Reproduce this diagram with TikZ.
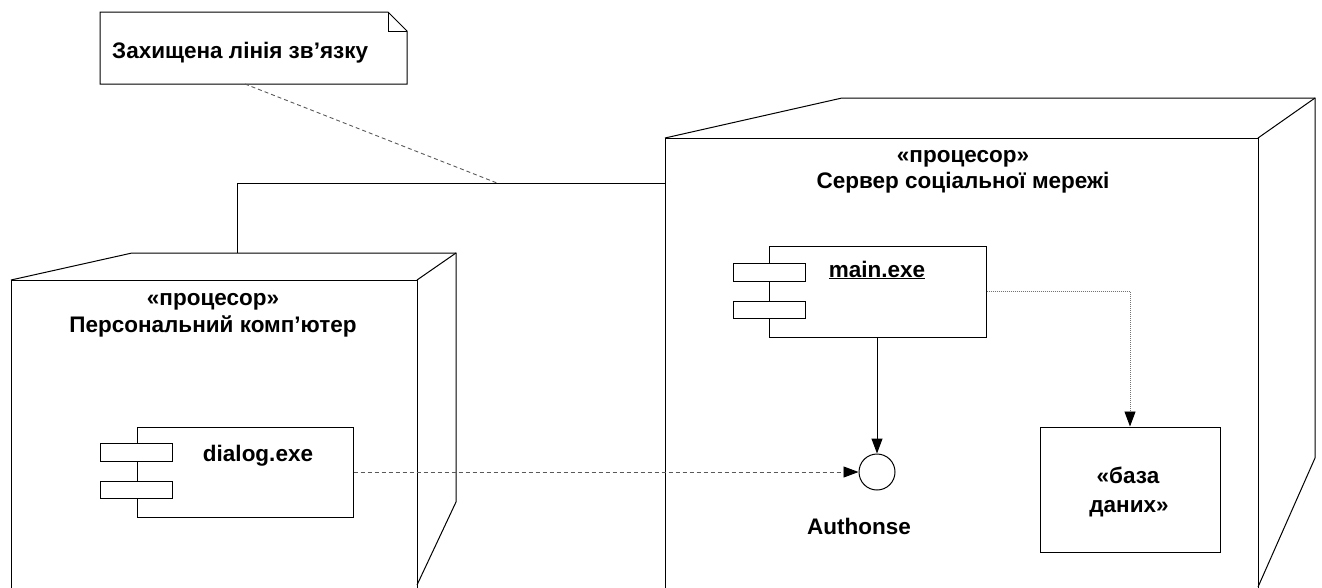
\documentclass[tikz,border=0pt]{standalone}
\usepackage{fontspec}
\setmainfont{Liberation Sans}
\usetikzlibrary{arrows.meta}
\begin{document}
\begin{tikzpicture}[x=1pt,y=-1pt,
  edge/.style={line width=1pt, black},
  lbl/.style={font=\fontsize{22.5}{26}\selectfont\bfseries, inner sep=0pt, anchor=base},
  comp/.style={draw, line width=1pt, minimum width=216pt, minimum height=90pt, inner sep=0pt, fill=white},
  port/.style={draw, line width=1pt, minimum width=72pt, minimum height=17.5pt, inner sep=0pt, fill=white},
  tip/.style={-{Triangle[length=15pt,width=11pt,color=black]}},
  dashline/.style={line width=0.9pt, black!65, dash pattern=on 4pt off 3pt},
  dotline/.style={line width=0.9pt, black!55, dash pattern=on 1pt off 1pt}
]
\useasboundingbox (0,0) rectangle (1322,587);
\clip (0,0) rectangle (1322,587);

% ---------- note ----------
\draw[edge, fill=white] (100,12) -- (388,12) -- (407,31) -- (407,84) -- (100,84) -- cycle;
\draw[edge] (388,12) -- (388,31) -- (407,31);
\node[lbl, anchor=base west] (notetext) at (112,58) {Захищена лінія зв’язку};

% ---------- left node (personal computer) ----------
\draw[edge] (11,600) -- (11,280) -- (417,280) -- (417,600);
\draw[edge] (11,280) -- (132,253) -- (456,253) -- (456,502) -- (417,585);
\draw[edge] (456,253) -- (417,280);
\node[lbl] (pcst) at (213,305) {«процесор»};
\node[lbl] (pcname) at (213,332) {Персональний комп’ютер};

% ---------- right node (server) ----------
\draw[edge] (665,600) -- (665,138) -- (1258,138) -- (1258,600);
\draw[edge] (665,138) -- (842,98) -- (1315,98) -- (1315,458) -- (1258,587);
\draw[edge] (1315,98) -- (1258,138);
\node[lbl] (srvst) at (963,162) {«процесор»};
\node[lbl] (srvname) at (963,188) {Сервер соціальної мережі};

% ---------- link between nodes ----------
\coordinate (pctop) at (237,253);
\coordinate (bend) at (237,183);
\coordinate (srvleft) at (665,183);
\draw[edge] (pctop) -- (bend) -- (srvleft);
\coordinate (notefoot) at (245,84);
\coordinate (linkpt) at (497,183);
\draw[dashline] (notefoot) -- (linkpt);

% ---------- dialog.exe component ----------
\node[comp] (dialog) at (245,472) {};
\node[port] (dport1) at (136.5,452.5) {};
\node[port] (dport2) at (136.5,490) {};
\node[lbl] (dialogtext) at (258,461) {dialog.exe};

% ---------- main.exe component ----------
\node[comp, minimum width=217pt, minimum height=91pt] (main) at (877.5,291.5) {};
\node[port] (mport1) at (769,272.5) {};
\node[port] (mport2) at (769,310) {};
\node[lbl] (maintext) at (877,277) {\underline{main.exe}};

% ---------- interface ----------
\node[draw, line width=1pt, circle, minimum size=36pt, inner sep=0pt] (auth) at (877,472) {};
\node[lbl] (authtext) at (859,534) {Authonse};

% ---------- database ----------
\node[draw, line width=1pt, minimum width=180pt, minimum height=125pt, inner sep=0pt] (db) at (1130,489.5) {};
\node[lbl] (dbtext1) at (1128,483) {«база};
\node[lbl] (dbtext2) at (1129,512) {даних»};

% ---------- connectors ----------
\draw[edge, tip] (auth.north |- main.south) -- (auth.north);
\draw[dashline, tip] (dialog.east) -- (auth.west);
\draw[dotline, tip] (main.east) -| (db.north);
\end{tikzpicture}
\end{document}
